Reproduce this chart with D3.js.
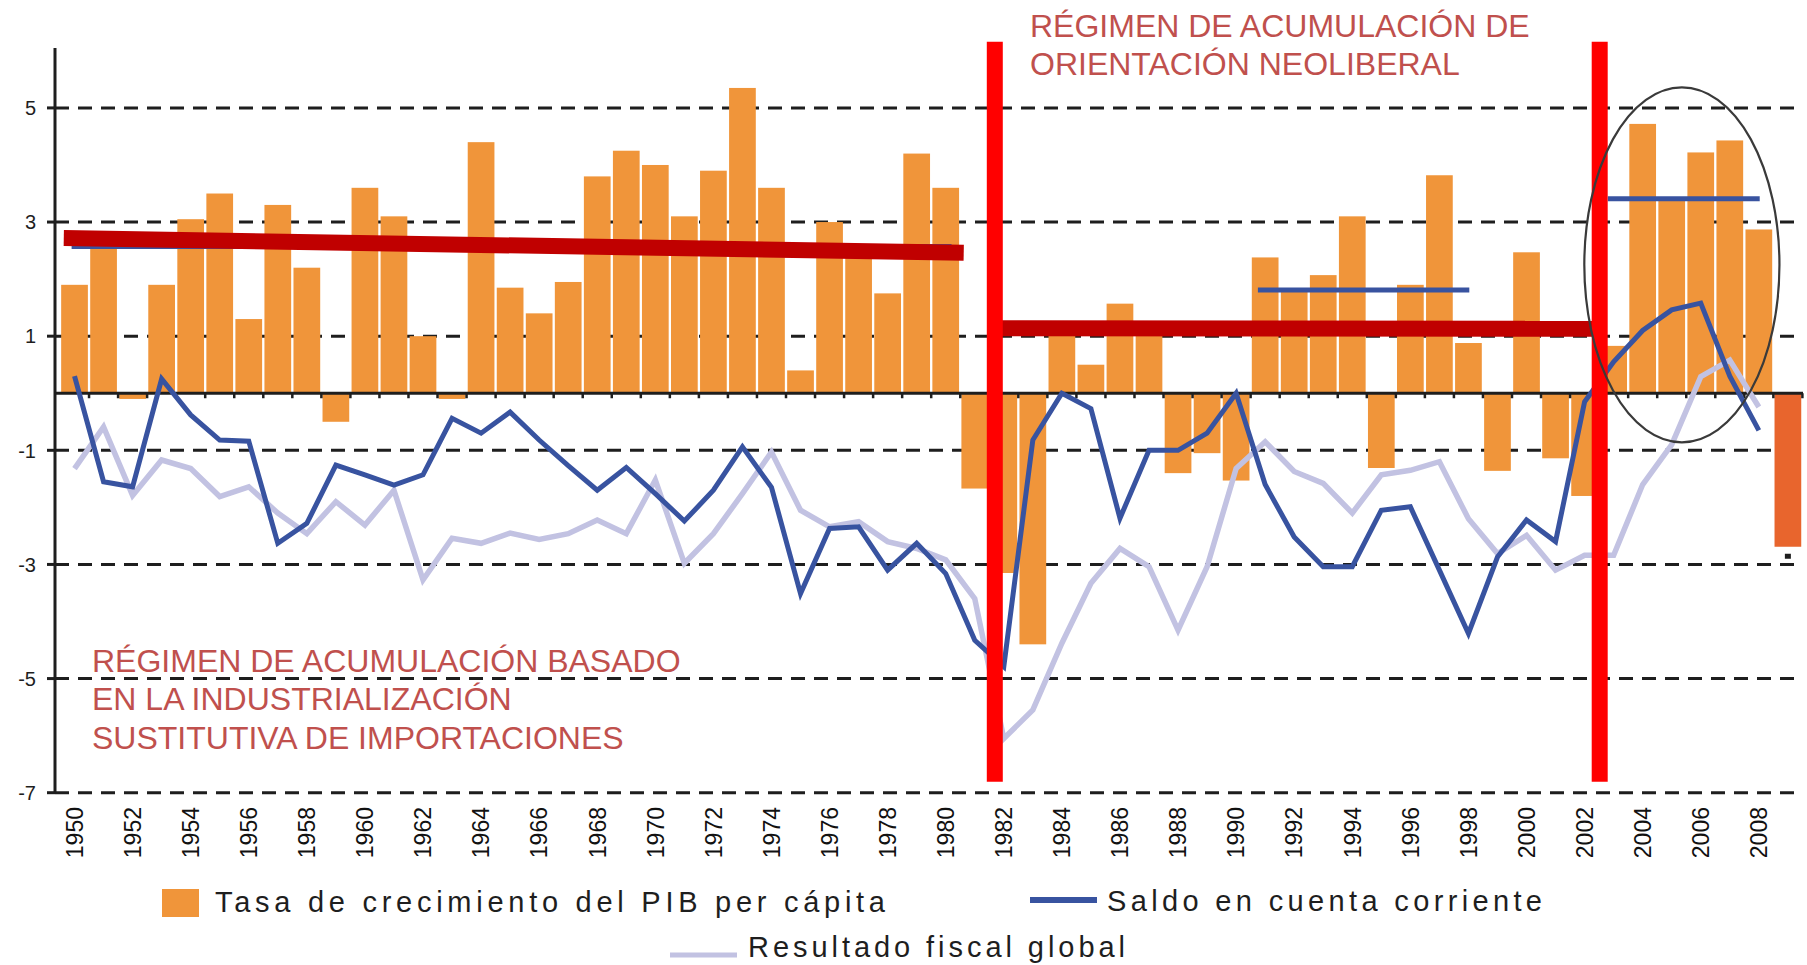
<!DOCTYPE html>
<html>
<head>
<meta charset="utf-8">
<script src="https://cdn.jsdelivr.net/npm/d3@7"></script>
<style>
  body { margin: 0; background: #fff; }
  svg { display: block; font-family: "Liberation Sans", Arial, sans-serif; }
</style>
</head>
<body>
<div id="chart"></div>
<script>
// years on the category axis
var years = d3.range(1950, 2010);

// Tasa de crecimiento del PIB per capita (bars), 1950-2009
var pibGrowth = [1.9, 2.6, -0.1, 1.9, 3.05, 3.5, 1.3, 3.3, 2.2, -0.5,
                 3.6, 3.1, 1.0, -0.1, 4.4, 1.85, 1.4, 1.95, 3.8, 4.25,
                 4.0, 3.1, 3.9, 5.35, 3.6, 0.4, 3.0, 2.5, 1.75, 4.2,
                 3.6, -1.67, -3.15, -4.4, 1.05, 0.5, 1.57, 1.05, -1.4, -1.05,
                 -1.53, 2.38, 1.78, 2.07, 3.1, -1.31, 1.9, 3.82, 0.88, -1.36,
                 2.47, -1.14, -1.8, 0.83, 4.72, 3.4, 4.22, 4.43, 2.87, -2.69];

// Saldo en cuenta corriente, 1950-2008
var currentAccount = [0.3, -1.55, -1.64, 0.25, -0.38, -0.82, -0.84, -2.63, -2.28, -1.26,
                      -1.43, -1.61, -1.43, -0.44, -0.7, -0.33, -0.82, -1.27, -1.7, -1.3,
                      -1.76, -2.24, -1.7, -0.94, -1.65, -3.51, -2.37, -2.34, -3.1, -2.63,
                      -3.16, -4.33, -4.79, -0.82, 0.0, -0.27, -2.19, -1.0, -1.0, -0.7,
                      0.0, -1.6, -2.52, -3.04, -3.04, -2.05, -1.99, -3.1, -4.21, -2.87,
                      -2.22, -2.6, -0.15, 0.55, 1.1, 1.46, 1.58, 0.3, -0.65, null];

// Resultado fiscal global, 1950-2008
var fiscalBalance = [-1.32, -0.59, -1.79, -1.17, -1.32, -1.81, -1.64, -2.1, -2.46, -1.9,
                     -2.31, -1.7, -3.27, -2.54, -2.63, -2.45, -2.56, -2.46, -2.22, -2.46,
                     -1.52, -2.98, -2.46, -1.76, -1.03, -2.05, -2.34, -2.25, -2.6, -2.72,
                     -2.92, -3.6, -6.05, -5.55, -4.38, -3.33, -2.72, -3.04, -4.15, -3.04,
                     -1.32, -0.85, -1.37, -1.58, -2.1, -1.43, -1.35, -1.2, -2.2, -2.81,
                     -2.49, -3.1, -2.84, -2.84, -1.6, -0.9, 0.29, 0.58, -0.24, null];

var yTicks = [5, 3, 1, -1, -3, -5, -7];
var xLabels = d3.range(1950, 2009, 2);

// period trend lines: [year, value] end points
var redTrends = [[[1949.63, 2.72], [1980.62, 2.46]],
                 [[1981.68, 1.14], [2002.32, 1.13]]];
var blueAverages = [[[1949.9, 2.57], [1980.2, 2.57]],
                    [[1990.75, 1.81], [1998.03, 1.81]],
                    [[2002.8, 3.41], [2008.03, 3.41]]];
var breakYears = [1981.69, 2002.52];
var breakRange = [-6.81, 6.16];
var highlight = { year: 2005.35, value: 2.25, dYears: 3.36, dValue: 3.11 };

var topLabel = ["RÉGIMEN DE ACUMULACIÓN DE", "ORIENTACIÓN NEOLIBERAL"];
var bottomLabel = ["RÉGIMEN DE ACUMULACIÓN BASADO", "EN LA INDUSTRIALIZACIÓN", "SUSTITUTIVA DE IMPORTACIONES"];

var orange = "#F0953A", orange2009 = "#E8652D", blue = "#3853A0", lilac = "#C2C2E2",
    darkRed = "#C00000", brightRed = "#FF0000", noteRed = "#C0504D", ink = "#1e1e1e";

var width = 1807, height = 965;

var svg = d3.select("#chart").append("svg")
    .attr("width", width)
    .attr("height", height);

var x = d3.scaleBand()
    .domain(years)
    .range([60, 1802.4])
    .paddingInner(0.08)
    .paddingOuter(0.04);

var half = x.bandwidth() / 2;
var xYear = d3.scaleLinear()
    .domain([1950, 2009])
    .range([x(1950) + half, x(2009) + half]);

var y = d3.scaleLinear()
    .domain([-7, 6.05])
    .range([792.7, 48]);

var axisX = 55, right = 1803;

// dashed grid
svg.append("g").selectAll("line")
    .data(yTicks)
    .enter().append("line")
    .attr("x1", axisX).attr("x2", right)
    .attr("y1", function (d) { return y(d); })
    .attr("y2", function (d) { return y(d); })
    .attr("stroke", ink)
    .attr("stroke-width", 3)
    .attr("stroke-dasharray", "14,9");

// bars
svg.append("g").selectAll("rect")
    .data(years)
    .enter().append("rect")
    .attr("x", function (d) { return x(d); })
    .attr("width", x.bandwidth())
    .attr("y", function (d, i) { return y(Math.max(0, pibGrowth[i])); })
    .attr("height", function (d, i) { return Math.abs(y(pibGrowth[i]) - y(0)); })
    .attr("fill", function (d) { return d === 2009 ? orange2009 : orange; });

// footnote mark under the 2009 bar
svg.append("rect")
    .attr("x", x(2009) + half - 3)
    .attr("y", y(pibGrowth[59]) + 7)
    .attr("width", 6).attr("height", 5)
    .attr("fill", ink);

// y axis
svg.append("line")
    .attr("x1", axisX).attr("x2", axisX)
    .attr("y1", y(6.05)).attr("y2", y(-7))
    .attr("stroke", ink).attr("stroke-width", 3);

svg.append("g").selectAll("line")
    .data(yTicks)
    .enter().append("line")
    .attr("x1", axisX - 8).attr("x2", axisX)
    .attr("y1", function (d) { return y(d); })
    .attr("y2", function (d) { return y(d); })
    .attr("stroke", ink).attr("stroke-width", 3);

svg.append("g").selectAll("text")
    .data(yTicks)
    .enter().append("text")
    .attr("x", 36)
    .attr("y", function (d) { return y(d); })
    .attr("dy", "0.36em")
    .attr("text-anchor", "end")
    .attr("font-size", 20)
    .attr("fill", ink)
    .text(function (d) { return d; });

// zero line + category ticks
svg.append("line")
    .attr("x1", axisX).attr("x2", right)
    .attr("y1", y(0)).attr("y2", y(0))
    .attr("stroke", ink).attr("stroke-width", 3);

svg.append("g").selectAll("line")
    .data(years)
    .enter().append("line")
    .attr("x1", function (d) { return x(d) + x.step() - (x.step() - x.bandwidth()) / 2; })
    .attr("x2", function (d) { return x(d) + x.step() - (x.step() - x.bandwidth()) / 2; })
    .attr("y1", y(0)).attr("y2", y(0) + 5)
    .attr("stroke", ink).attr("stroke-width", 2.5);

// year labels
svg.append("g").selectAll("text")
    .data(xLabels)
    .enter().append("text")
    .attr("transform", function (d) { return "translate(" + (x(d) + half) + ",807) rotate(-90)"; })
    .attr("dy", "0.36em")
    .attr("text-anchor", "end")
    .attr("font-size", 23)
    .attr("fill", "#111")
    .text(function (d) { return d; });

var seg = d3.line()
    .x(function (d) { return xYear(d[0]); })
    .y(function (d) { return y(d[1]); });

// average and trend lines
svg.append("path")
    .attr("d", seg(blueAverages[0]))
    .attr("stroke", blue).attr("stroke-width", 5).attr("fill", "none");

svg.append("g").selectAll("path")
    .data(redTrends)
    .enter().append("path")
    .attr("d", seg)
    .attr("stroke", darkRed)
    .attr("stroke-width", 16)
    .attr("fill", "none");

svg.append("g").selectAll("path")
    .data(blueAverages.slice(1))
    .enter().append("path")
    .attr("d", seg)
    .attr("stroke", blue)
    .attr("stroke-width", 5)
    .attr("fill", "none");

// series lines
var seriesLine = function (values) {
    return d3.line()
        .defined(function (d, i) { return values[i] !== null; })
        .x(function (d) { return x(d) + half; })
        .y(function (d, i) { return y(values[i]); })(years);
};

svg.append("path")
    .attr("d", seriesLine(fiscalBalance))
    .attr("stroke", lilac).attr("stroke-width", 5.5).attr("fill", "none");

svg.append("path")
    .attr("d", seriesLine(currentAccount))
    .attr("stroke", blue).attr("stroke-width", 5).attr("fill", "none");

// period breaks
svg.append("g").selectAll("line")
    .data(breakYears)
    .enter().append("line")
    .attr("x1", function (d) { return xYear(d); })
    .attr("x2", function (d) { return xYear(d); })
    .attr("y1", y(breakRange[1]))
    .attr("y2", y(breakRange[0]))
    .attr("stroke", brightRed)
    .attr("stroke-width", 16);

// highlight ellipse
svg.append("ellipse")
    .attr("cx", xYear(highlight.year))
    .attr("cy", y(highlight.value))
    .attr("rx", xYear(highlight.year + highlight.dYears) - xYear(highlight.year))
    .attr("ry", y(highlight.value - highlight.dValue) - y(highlight.value))
    .attr("fill", "none")
    .attr("stroke", "#3a3a3a")
    .attr("stroke-width", 2.2);

// period annotations
svg.append("g").selectAll("text")
    .data(topLabel)
    .enter().append("text")
    .attr("x", 1030)
    .attr("y", function (d, i) { return 37 + i * 38.3; })
    .attr("font-size", 32)
    .attr("fill", noteRed)
    .text(function (d) { return d; });

svg.append("g").selectAll("text")
    .data(bottomLabel)
    .enter().append("text")
    .attr("x", 92)
    .attr("y", function (d, i) { return 672 + i * 38.3; })
    .attr("font-size", 32)
    .attr("fill", noteRed)
    .text(function (d) { return d; });

// legend
var legend = svg.append("g").attr("fill", ink).attr("font-size", 29);

legend.append("rect")
    .attr("x", 162).attr("y", 889).attr("width", 37).attr("height", 28)
    .attr("fill", orange);
legend.append("text")
    .attr("x", 215).attr("y", 911.5)
    .attr("textLength", 670).attr("lengthAdjust", "spacing")
    .text("Tasa de crecimiento del PIB per cápita");

legend.append("line")
    .attr("x1", 1030).attr("x2", 1097).attr("y1", 900).attr("y2", 900)
    .attr("stroke", blue).attr("stroke-width", 6);
legend.append("text")
    .attr("x", 1107).attr("y", 911)
    .attr("textLength", 435).attr("lengthAdjust", "spacing")
    .text("Saldo en cuenta corriente");

legend.append("line")
    .attr("x1", 670).attr("x2", 737).attr("y1", 955).attr("y2", 955)
    .attr("stroke", lilac).attr("stroke-width", 5);
legend.append("text")
    .attr("x", 748).attr("y", 957)
    .attr("textLength", 377).attr("lengthAdjust", "spacing")
    .text("Resultado fiscal global");
</script>
</body>
</html>
